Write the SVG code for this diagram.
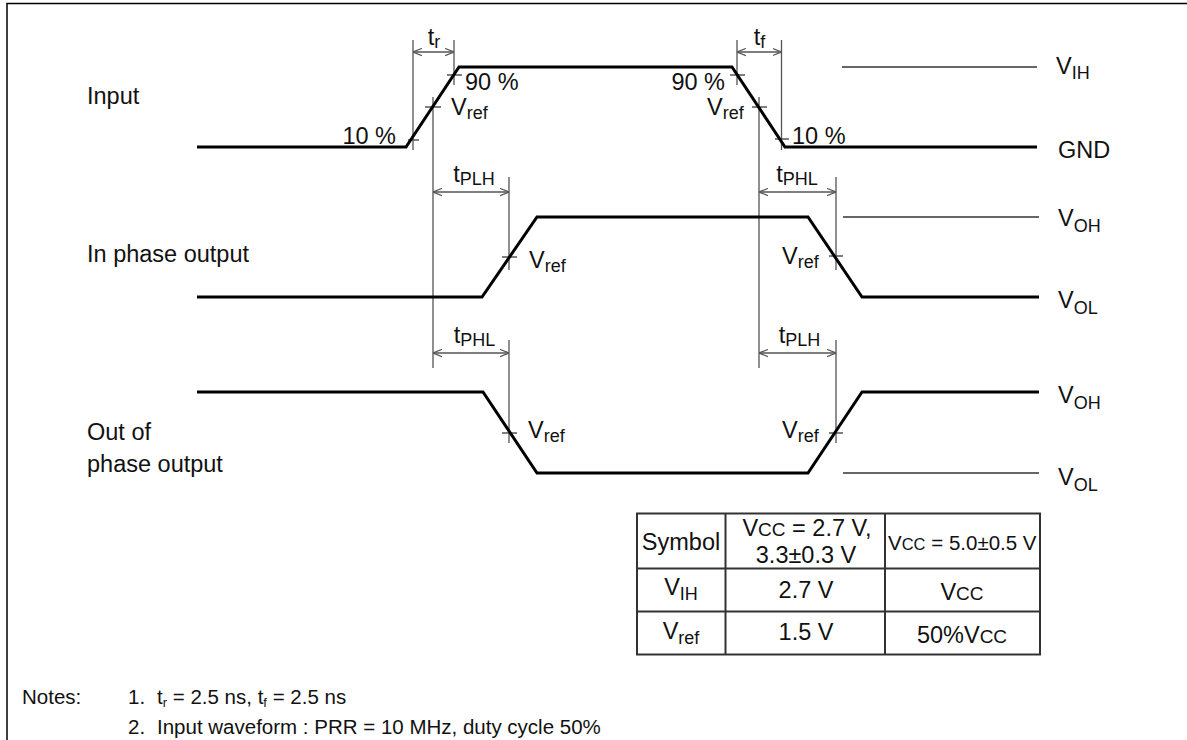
<svg xmlns="http://www.w3.org/2000/svg" width="1187" height="740" viewBox="0 0 1187 740">
<defs>
<style>
text{font-family:"Liberation Sans",Arial,sans-serif;fill:#111;}
.lbl{font-size:23.5px;}
.mid{text-anchor:middle;}
.note{font-size:20.5px;}
.wave{fill:none;stroke:#000;stroke-width:3;stroke-linejoin:miter;}
.ref{fill:none;stroke:#333;stroke-width:1.3;}
.dim{fill:none;stroke:#555;stroke-width:1.3;}
.arr{fill:none;stroke:#555;stroke-width:1.3;marker-start:url(#ah);marker-end:url(#ah);}
.tbl{fill:none;stroke:#333;stroke-width:2;}
</style>
<marker id="ah" viewBox="0 0 10 10" refX="10" refY="5" markerWidth="9" markerHeight="9" markerUnits="userSpaceOnUse" orient="auto-start-reverse">
<path d="M0,1 L10,5 L0,9" fill="none" stroke="#555" stroke-width="1.3"/>
</marker>
</defs>
<rect width="1187" height="740" fill="#fff"/>
<path d="M7,740 V3.5 H1187" fill="none" stroke="#000" stroke-width="1.5"/>

<g id="connectors">
<path class="ref" d="M842,67 H1037"/>
<path class="ref" d="M843,217 H1039"/>
<path class="ref" d="M843,473 H1039"/>
<path class="dim" d="M413,40 V150 M408,140 H419"/>
<path class="dim" d="M454,40 V85 M447,75 H462"/>
<path class="dim" d="M433,97 V368 M425,107 H441"/>
<path class="arr" d="M413,52 H454"/>
<path class="dim" d="M737,40 V85 M730,75 H745"/>
<path class="dim" d="M759,97 V368 M752,107 H767"/>
<path class="dim" d="M781.5,40 V150 M775,139 H789"/>
<path class="arr" d="M737,52 H781.5"/>
<path class="dim" d="M509,177 V270 M502,257 H517"/>
<path class="arr" d="M433,192 H509"/>
<path class="dim" d="M836,177 V270 M829,256 H843"/>
<path class="arr" d="M759,192 H836"/>
<path class="dim" d="M509,340 V443 M502,433 H517"/>
<path class="arr" d="M433,353 H509"/>
<path class="dim" d="M836,340 V443 M829,433 H843"/>
<path class="arr" d="M759,353 H836"/>
</g>

<g id="input">
<path class="wave" d="M197,147 H406 L459,67 H732 L785,147 H1037"/>
<text class="lbl" x="87" y="104">Input</text>
<text class="lbl" x="396" y="144" text-anchor="end">10 %</text>
<text class="lbl" x="465" y="90">90 %</text>
<text class="lbl" x="451" y="115">V<tspan font-size="18" dy="4">ref</tspan></text>
<text class="lbl" x="725" y="90" text-anchor="end">90 %</text>
<text class="lbl" x="707" y="115">V<tspan font-size="18" dy="4">ref</tspan></text>
<text class="lbl" x="792" y="144">10 %</text>
<text class="lbl mid" x="434" y="45">t<tspan font-size="18" dy="3">r</tspan></text>
<text class="lbl mid" x="759.5" y="45">t<tspan font-size="18" dy="3">f</tspan></text>
<text class="lbl" x="1056" y="74">V<tspan font-size="18" dy="5">IH</tspan></text>
<text class="lbl" x="1058" y="158">GND</text>
</g>

<g id="in-phase-output">
<path class="wave" d="M197,297 H482 L537,217 H808 L862,297 H1039"/>
<text class="lbl" x="87" y="262">In phase output</text>
<text class="lbl mid" x="474" y="182">t<tspan font-size="18" dy="3">PLH</tspan></text>
<text class="lbl mid" x="797" y="182">t<tspan font-size="18" dy="3">PHL</tspan></text>
<text class="lbl" x="529" y="268">V<tspan font-size="18" dy="4">ref</tspan></text>
<text class="lbl" x="782" y="264">V<tspan font-size="18" dy="4">ref</tspan></text>
<text class="lbl" x="1058" y="226">V<tspan font-size="18" dy="6">OH</tspan></text>
<text class="lbl" x="1058" y="308">V<tspan font-size="18" dy="6">OL</tspan></text>
</g>

<g id="out-of-phase-output">
<path class="wave" d="M197,392 H483 L537,473 H808 L862,392 H1039"/>
<text class="lbl" x="87" y="440">Out of</text>
<text class="lbl" x="87" y="472">phase output</text>
<text class="lbl mid" x="474.5" y="343">t<tspan font-size="18" dy="3">PHL</tspan></text>
<text class="lbl mid" x="799.5" y="343">t<tspan font-size="18" dy="3">PLH</tspan></text>
<text class="lbl" x="528" y="438">V<tspan font-size="18" dy="4">ref</tspan></text>
<text class="lbl" x="782" y="438">V<tspan font-size="18" dy="4">ref</tspan></text>
<text class="lbl" x="1058" y="403">V<tspan font-size="18" dy="6">OH</tspan></text>
<text class="lbl" x="1058" y="485">V<tspan font-size="18" dy="6">OL</tspan></text>
</g>

<g id="table">
<rect class="tbl" x="637" y="513.5" width="403" height="141"/>
<path class="tbl" d="M725.5,513.5 V654.5 M885,513.5 V654.5 M637,568.5 H1040 M637,611.5 H1040"/>
<text class="lbl mid" x="681" y="550">Symbol</text>
<text class="lbl mid" x="807" y="536">V<tspan font-size="19">CC</tspan> = 2.7 V,</text>
<text class="lbl mid" x="806" y="563">3.3±0.3 V</text>
<text x="888" y="550" font-size="20.5">V<tspan font-size="16.5">CC</tspan> = 5.0±0.5 V</text>
<text class="lbl mid" x="681" y="595">V<tspan font-size="18" dy="5">IH</tspan></text>
<text class="lbl mid" x="806" y="598">2.7 V</text>
<text class="lbl mid" x="962" y="600">V<tspan font-size="19">CC</tspan></text>
<text class="lbl mid" x="681" y="639">V<tspan font-size="18" dy="5">ref</tspan></text>
<text class="lbl mid" x="806" y="640">1.5 V</text>
<text class="lbl mid" x="962" y="643">50%V<tspan font-size="19">CC</tspan></text>
</g>

<g id="notes">
<text class="note" x="22" y="704">Notes:</text>
<text class="note" x="128" y="704">1.</text>
<text class="note" x="157" y="704">t<tspan font-size="13" dy="3">r</tspan><tspan dy="-3"> = 2.5 ns, t</tspan><tspan font-size="13" dy="3">f</tspan><tspan dy="-3"> = 2.5 ns</tspan></text>
<text class="note" x="128" y="734">2.</text>
<text class="note" x="157" y="734">Input waveform : PRR = 10 MHz, duty cycle 50%</text>
</g>
</svg>
